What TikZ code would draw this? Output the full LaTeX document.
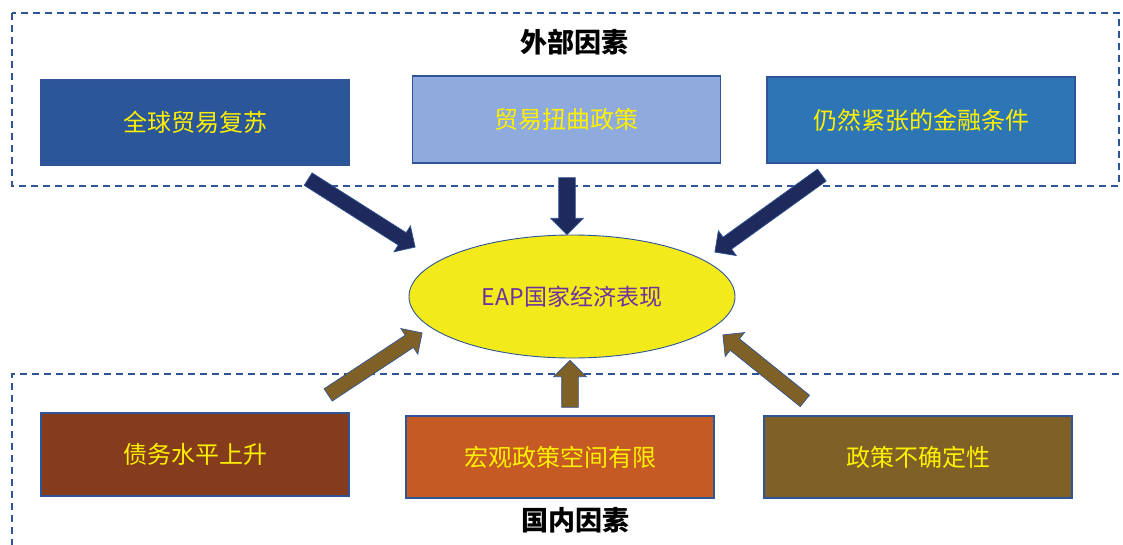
\documentclass[tikz,border=0pt]{standalone}
\usepackage{fontspec}
\setmainfont{Noto Sans CJK SC}
\usetikzlibrary{shapes.geometric,shapes.arrows,calc}
\definecolor{boxline}{RGB}{47,85,151}
\definecolor{bA}{RGB}{43,87,154}
\definecolor{bB}{RGB}{143,170,220}
\definecolor{bC}{RGB}{46,117,182}
\definecolor{bD}{RGB}{132,60,28}
\definecolor{bE}{RGB}{197,90,36}
\definecolor{bF}{RGB}{127,97,39}
\definecolor{navyarr}{RGB}{31,42,92}
\definecolor{brownarr}{RGB}{127,97,40}
\definecolor{ellfill}{RGB}{242,234,27}
\definecolor{purptext}{RGB}{112,48,160}
\definecolor{boxtext}{RGB}{255,240,0}
\tikzset{
  infobox/.style={draw=boxline, line width=1.2pt, minimum width=308pt, inner sep=0pt,
    text=boxtext, font=\fontsize{24}{28}\selectfont},
  dashframe/.style={draw=boxline, line width=1.2pt, dash pattern=on 7pt off 5pt},
  title/.style={font=\fontsize{27}{31}\selectfont\bfseries, text=black},
  blockarr/.style={single arrow, draw=boxline, line width=0.7pt, inner sep=7pt,
    single arrow head extend=8pt, single arrow tip angle=90, sloped, allow upside down,
    minimum width=1pt},
}
\newcommand\blockarrow[3]{%
  \path let \p1=($(#3)-(#2)$), \n1={veclen(\x1,\y1)}, \n2={0.5-3.5/\n1} in
    (#2) -- node[blockarr,#1,minimum height=\n1,pos=\n2]{} (#3);}
\begin{document}
\begin{tikzpicture}[x=1pt,y=-1pt]
\useasboundingbox (0,0) rectangle (1123,544);
% frames
\draw[dashframe] (12,13) rectangle (1119,186);
\draw[dashframe] (12,546) -- (12,374) -- (1126,374);
% titles
\node[title] (tExt) at (574,42) {外部因素};
\node[title] (tInt) at (575,520) {国内因素};
% boxes
\node[infobox, fill=bA, minimum height=85pt] (e1) at (195,122.5) {全球贸易复苏};
\node[infobox, fill=bB, minimum height=87pt] (e2) at (566.5,119.5) {贸易扭曲政策};
\node[infobox, fill=bC, minimum height=86pt] (e3) at (921,120) {仍然紧张的金融条件};
\node[infobox, fill=bD, minimum height=83pt] (i1) at (195,454.5) {债务水平上升};
\node[infobox, fill=bE, minimum height=82pt] (i2) at (560,457) {宏观政策空间有限};
\node[infobox, fill=bF, minimum height=82pt] (i3) at (918,457) {政策不确定性};
% ellipse
\node[ellipse, draw=boxline, line width=0.9pt, fill=ellfill, minimum width=326pt,
  minimum height=123pt, inner sep=0pt, text=purptext, font=\fontsize{23}{27}\selectfont]
  (eap) at (572,296.5) {EAP国家经济表现};
% arrow endpoints
\coordinate (a1s) at (308,179);
\coordinate (a1e) at (415,247);
\coordinate (a2s) at (567,177);
\coordinate (a2e) at (567,234);
\coordinate (a3s) at (822,175);
\coordinate (a3e) at (715,252);
\coordinate (a4s) at (328,395);
\coordinate (a4e) at (422,333);
\coordinate (a5s) at (570,408);
\coordinate (a5e) at (570,361);
\coordinate (a6s) at (805,401);
\coordinate (a6e) at (723,335);
% arrows
\blockarrow{fill=navyarr}{a1s}{a1e}
\blockarrow{fill=navyarr,inner sep=8pt}{a2s}{a2e}
\blockarrow{fill=navyarr}{a3s}{a3e}
\blockarrow{fill=brownarr}{a4s}{a4e}
\blockarrow{fill=brownarr,inner sep=8pt}{a5s}{a5e}
\blockarrow{fill=brownarr}{a6s}{a6e}
\end{tikzpicture}
\end{document}
